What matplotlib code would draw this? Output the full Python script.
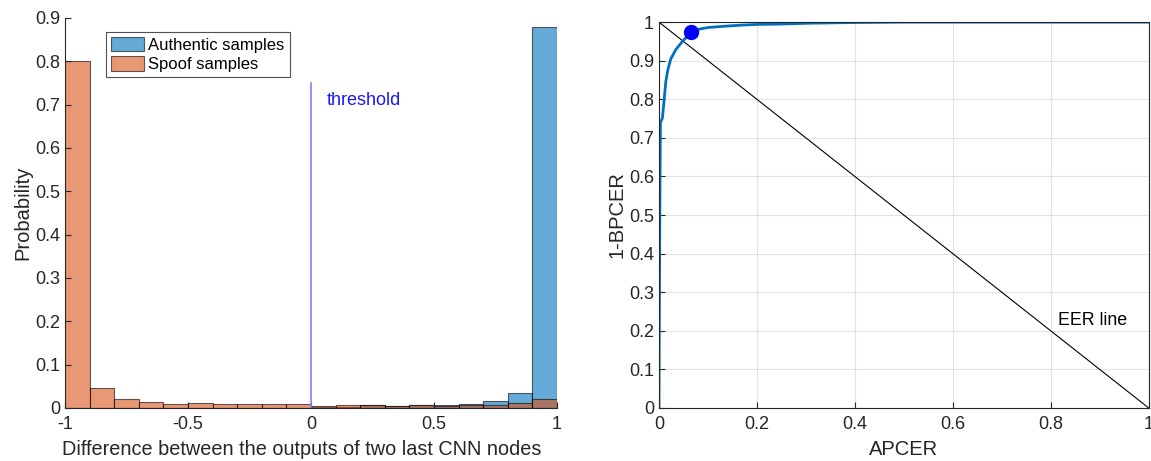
import numpy as np
import matplotlib.pyplot as plt

plt.rcParams['font.family'] = ['Liberation Sans', 'DejaVu Sans']

# histogram bins (width 0.1 from -1 to 1)
bin_edges = np.round(np.arange(-1.0, 1.01, 0.1), 2)
authentic = [0.0, 0.0, 0.0, 0.0, 0.0, 0.0, 0.0, 0.0, 0.0, 0.0,
             0.002, 0.003, 0.007, 0.005, 0.006, 0.006, 0.009, 0.016, 0.035, 0.88]
spoof = [0.80, 0.047, 0.021, 0.014, 0.009, 0.011, 0.009, 0.009, 0.009, 0.009,
         0.004, 0.006, 0.006, 0.005, 0.006, 0.004, 0.006, 0.008, 0.011, 0.021]

# ROC curve (APCER vs 1-BPCER)
apcer = [0.0, 0.001, 0.002, 0.003, 0.007, 0.010, 0.014, 0.018, 0.024, 0.034, 0.046,
         0.056, 0.068, 0.083, 0.10, 0.13, 0.165, 0.2, 0.25, 0.3, 0.4, 0.5, 0.7, 1.0]
bpcer1 = [0.0, 0.3, 0.55, 0.74, 0.751, 0.79, 0.846, 0.875, 0.904, 0.928, 0.947,
          0.961, 0.975, 0.982, 0.986, 0.989, 0.992, 0.994, 0.995, 0.997, 0.999, 1.0, 1.0, 1.0]
eer_point = (0.066, 0.975)

blue = (0, 0.447, 0.741)
orange = (0.85, 0.325, 0.098)
dark = '#262626'

fig = plt.figure(figsize=(11.51, 4.61), dpi=100)

# left: histogram
ax1 = fig.add_axes([0.0565, 0.115, 0.4275, 0.846])
widths = np.diff(bin_edges)
ax1.bar(bin_edges[:-1], authentic, width=widths, align='edge', color=blue, alpha=0.6,
        edgecolor='black', linewidth=0.8, label='Authentic samples')
ax1.bar(bin_edges[:-1], spoof, width=widths, align='edge', color=orange, alpha=0.6,
        edgecolor='black', linewidth=0.8, label='Spoof samples')
ax1.plot([0, 0], [0, 0.75], color=(0.5, 0.5, 1.0), linewidth=1.2)
ax1.text(0.065, 0.71, 'threshold', color=(0.1, 0.1, 0.95), fontsize=13, va='center')
ax1.set_xlim(-1, 1)
ax1.set_ylim(0, 0.9)
ax1.set_xticks([-1, -0.5, 0, 0.5, 1])
ax1.set_xticklabels(['-1', '-0.5', '0', '0.5', '1'])
ax1.set_yticks(np.arange(0, 0.91, 0.1))
ax1.set_yticklabels(['0', '0.1', '0.2', '0.3', '0.4', '0.5', '0.6', '0.7', '0.8', '0.9'])
ax1.spines['top'].set_visible(False)
ax1.spines['right'].set_visible(False)
for s in ax1.spines.values():
    s.set_color(dark)
ax1.tick_params(direction='in', colors=dark, labelsize=13, length=4)
ax1.tick_params(axis='x', pad=6)
ax1.set_xlabel('Difference between the outputs of two last CNN nodes', fontsize=14.3,
               color=dark)
ax1.xaxis.set_label_coords(0.481, -0.083)
ax1.set_ylabel('Probability', fontsize=14.5, color=dark, labelpad=2)
leg = ax1.legend(loc='upper left', bbox_to_anchor=(0.083, 0.964), fontsize=12,
                 frameon=True, fancybox=False, edgecolor=dark, handlelength=2.0,
                 handleheight=0.95, borderpad=0.3, labelspacing=0.2, handletextpad=0.25,
                 borderaxespad=0)
leg.get_frame().set_linewidth(0.8)

# right: ROC
ax2 = fig.add_axes([0.5725, 0.115, 0.4255, 0.837])
ax2.grid(True, color='#e3e3e3', linewidth=0.8)
ax2.set_axisbelow(True)
ax2.plot([0, 1], [1, 0], color='black', linewidth=0.8)
ax2.plot(apcer, bpcer1, color=(0, 0.447, 0.741), linewidth=2)
ax2.plot(*eer_point, 'o', color='blue', markersize=10)
ax2.text(0.814, 0.226, 'EER line', fontsize=12.8, color='black', va='center')
ax2.set_xlim(0, 1)
ax2.set_ylim(0, 1)
ax2.set_xticks(np.arange(0, 1.01, 0.2))
ax2.set_xticklabels(['0', '0.2', '0.4', '0.6', '0.8', '1'])
ax2.set_yticks(np.arange(0, 1.01, 0.1))
ax2.set_yticklabels(['0', '0.1', '0.2', '0.3', '0.4', '0.5', '0.6', '0.7', '0.8', '0.9', '1'])
for s in ax2.spines.values():
    s.set_color(dark)
ax2.tick_params(direction='in', colors=dark, labelsize=13, length=4)
ax2.tick_params(axis='x', pad=6)
ax2.set_xlabel('APCER', fontsize=14.5, color=dark)
ax2.xaxis.set_label_coords(0.5, -0.083)
ax2.set_ylabel('1-BPCER', fontsize=14.5, color=dark, labelpad=2)

fig.savefig('out.png', dpi=100)
